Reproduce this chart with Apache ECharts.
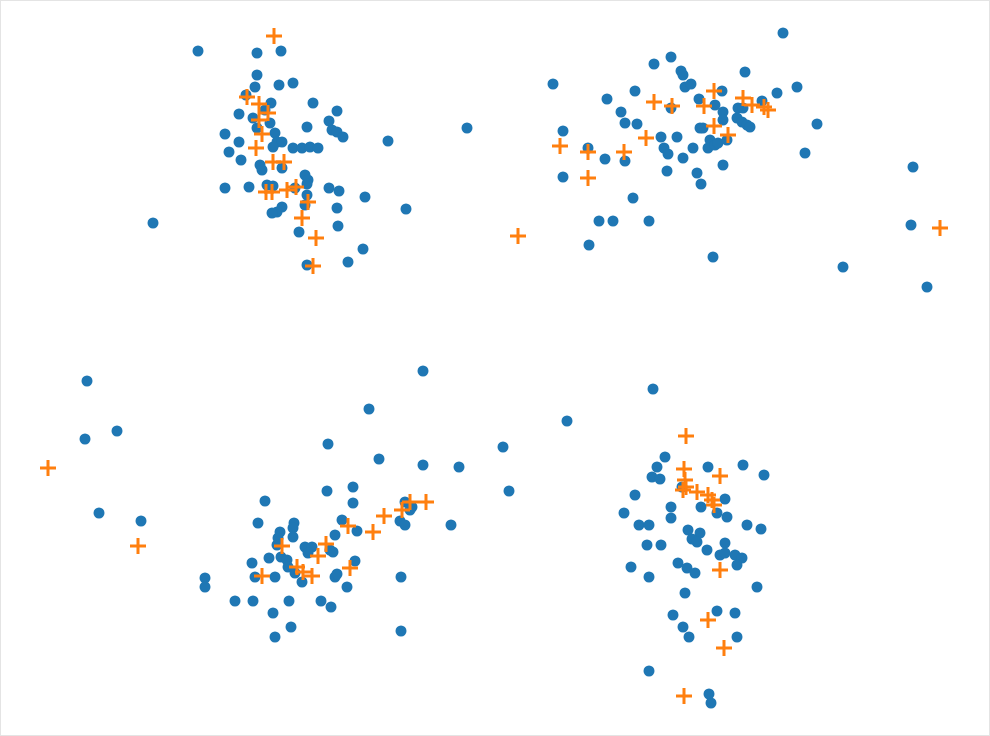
<!DOCTYPE html>
<html>
<head>
<meta charset="utf-8">
<title>scatter</title>
<script src="https://cdn.jsdelivr.net/npm/echarts@6/dist/echarts.min.js"></script>
<style>
  html, body { margin: 0; padding: 0; background: #fff; }
  #chart { width: 988px; height: 734px; border: 1px solid #e4e4e4; }
</style>
</head>
<body>
<div id="chart"></div>
<script>
// 圆点 (x, y)，y 向下增大
var circlePoints = [
  // 左上
  [198,51],[257,53],[281,51],[257,75],[255,87],[279,85],[293,83],[246,95],[271,103],[265,110],
  [313,103],[337,111],[239,114],[253,118],[329,121],[307,127],[225,134],[257,128],[270,123],[275,133],
  [277,142],[282,142],[273,147],[332,130],[337,132],[343,137],[239,142],[229,152],[241,160],[293,148],
  [302,148],[310,147],[318,148],[260,165],[262,170],[282,168],[305,175],[308,180],[307,184],[225,188],
  [249,187],[267,185],[273,186],[295,188],[329,188],[339,191],[307,195],[305,205],[282,207],[277,212],
  [272,213],[337,208],[338,226],[299,232],[365,197],[406,209],[388,141],[467,128],[153,223],[363,249],
  [348,262],[307,265],
  // 右上
  [553,84],[671,57],[654,64],[681,71],[683,75],[685,87],[691,84],[635,91],[607,99],[699,99],
  [621,112],[625,123],[637,124],[671,108],[563,131],[588,148],[605,159],[625,161],[661,137],[677,137],
  [664,148],[668,154],[683,158],[693,148],[667,171],[563,177],[697,173],[701,184],[633,198],[700,128],
  [783,33],[745,72],[797,87],[777,93],[722,91],[715,105],[762,101],[738,108],[743,108],[723,112],
  [723,120],[737,118],[742,122],[747,125],[750,127],[817,124],[703,128],[710,140],[708,148],[715,145],
  [718,143],[727,140],[805,153],[723,165],[913,167],[599,221],[613,221],[649,221],[589,245],[713,257],
  [911,225],[843,267],[927,287],
  // 左下
  [87,381],[117,431],[85,439],[99,513],[141,521],[328,444],[327,491],[353,487],[353,503],[265,501],
  [258,523],[294,523],[293,528],[293,537],[280,532],[278,538],[277,545],[342,520],[357,531],[335,535],
  [305,547],[312,547],[308,553],[330,550],[333,552],[269,558],[281,557],[287,560],[288,567],[252,563],
  [355,561],[255,577],[275,577],[295,573],[302,582],[335,577],[337,574],[347,587],[205,578],[205,587],
  [235,601],[253,601],[289,601],[321,601],[331,607],[273,613],[291,627],[275,637],[423,371],[369,409],
  [503,447],[379,459],[423,465],[459,467],[509,491],[405,502],[412,507],[410,510],[400,521],[405,525],
  [451,525],[401,577],[401,631],[567,421],
  // 右下
  [653,389],[665,457],[657,467],[652,477],[660,479],[708,467],[743,465],[764,475],[635,495],[682,487],
  [725,499],[671,507],[671,518],[701,507],[717,513],[727,517],[624,513],[639,525],[649,525],[747,525],
  [761,529],[688,530],[700,533],[692,539],[697,542],[647,545],[661,545],[707,550],[725,543],[720,555],
  [725,553],[735,555],[742,558],[737,565],[631,567],[678,563],[687,568],[695,573],[649,577],[757,587],
  [685,593],[673,615],[717,611],[735,613],[683,627],[689,637],[737,637],[649,671],[709,694],[711,703]
];

// 十字点
var crossPoints = [
  [274,36],[247,97],[259,104],[268,113],[259,120],[262,134],[256,148],[273,162],[284,162],[266,192],
  [272,192],[287,190],[296,187],[308,202],[302,218],[316,238],[313,266],
  [654,102],[672,106],[714,91],[704,106],[743,98],[752,105],[764,107],[768,110],[714,126],
  [728,135],[646,138],[560,146],[588,152],[624,152],[588,178],[518,236],[940,228],
  [48,468],[138,546],[348,526],[326,544],[318,556],[282,546],[297,567],[303,572],[312,576],
  [350,568],[262,576],[410,502],[426,502],[402,510],[384,516],[373,532],
  [686,436],[684,469],[720,476],[685,480],[686,487],[683,490],[697,492],[708,495],[712,500],
  [714,505],[720,570],[708,620],[724,648],[684,696]
];

var xRange = [1, 989];
var yRange = [1, 735];

var plusPath = "path://M6.5,0H9.5V6.5H16V9.5H9.5V16H6.5V9.5H0V6.5H6.5Z";

var chartDom = document.getElementById("chart");
var myChart = echarts.init(chartDom);
var option;

option = {
  animation: false,
  grid: { left: 0, right: 0, top: 0, bottom: 0 },
  xAxis: {
    type: "value",
    min: xRange[0],
    max: xRange[1],
    show: false,
  },
  yAxis: {
    type: "value",
    min: yRange[0],
    max: yRange[1],
    inverse: true,
    show: false,
  },
  series: [
    {
      name: "circle",
      type: "scatter",
      symbol: "circle",
      symbolSize: 11,
      itemStyle: { color: "#1f77b4", opacity: 1 },
      data: circlePoints,
      z: 2,
    },
    {
      name: "cross",
      type: "scatter",
      symbol: plusPath,
      symbolSize: 16,
      itemStyle: { color: "#ff7f0e", opacity: 1 },
      data: crossPoints,
      z: 3,
    },
  ],
};

option && myChart.setOption(option);
</script>
</body>
</html>
